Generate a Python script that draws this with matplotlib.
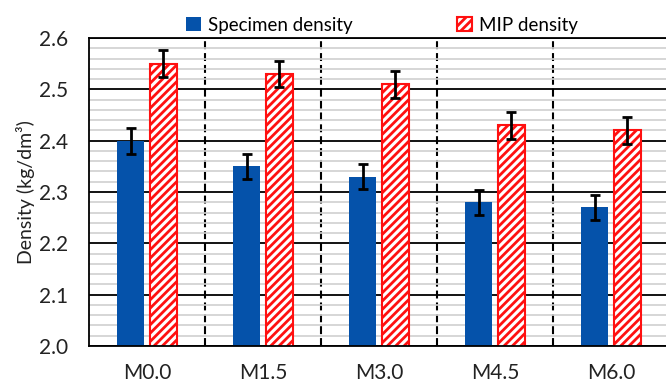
import numpy as np
import matplotlib.pyplot as plt
from matplotlib.ticker import MultipleLocator

plt.rcParams['font.family'] = ['Lato', 'DejaVu Sans']
plt.rcParams['hatch.linewidth'] = 2.0

## DATOS ##
mixes = ['M0.0', 'M1.5', 'M3.0', 'M4.5', 'M6.0']
specimen = [2.40, 2.35, 2.33, 2.28, 2.27]
specimen_err = [0.025, 0.024, 0.024, 0.024, 0.024]
mip = [2.55, 2.53, 2.51, 2.43, 2.42]
mip_err = [0.026, 0.026, 0.026, 0.026, 0.026]
## DATOS ##

x = np.arange(len(mixes))
w = 0.235
off = 0.142

fig = plt.figure(figsize=(6.66, 3.82), dpi=100)
ax = fig.add_axes([0.1336, 0.0942, 0.8709, 0.8063])

# lineas de grilla
ax.yaxis.set_minor_locator(MultipleLocator(0.02))
ax.yaxis.set_major_locator(MultipleLocator(0.1))
ax.grid(True, which='minor', axis='y', color='#d0d0d0', lw=1.2, zorder=0)
ax.grid(True, which='major', axis='y', color='black', lw=1.3, zorder=0.5)
for xb in x[:-1] + 0.5:
    ax.axvline(xb, color='black', ls=(0, (3.8, 1.9)), lw=1.5, zorder=0.6)

ax.bar(x - off, specimen, w, color='#0552AA', label='Specimen density', zorder=2)
ax.bar(x + off, mip, w, facecolor='white', edgecolor='#ff1010', hatch='////',
       lw=1.5, label='MIP density', zorder=2)
ax.errorbar(x - off, specimen, yerr=specimen_err, fmt='none', ecolor='black',
            elinewidth=2, capsize=3.5, capthick=2, zorder=3)
ax.errorbar(x + off, mip, yerr=mip_err, fmt='none', ecolor='black',
            elinewidth=2, capsize=3.5, capthick=2, zorder=3)

ax.set_ylim(2.0, 2.6)
ax.set_xlim(-0.5, 4.5)
ax.set_xticks(x)
ax.set_xticklabels(mixes)
ax.yaxis.set_major_formatter(lambda v, p: f'{v:.1f}')
ax.tick_params(axis='both', which='both', length=0, labelsize=15, colors='#222222')
ax.tick_params(axis='x', pad=12)
ax.tick_params(axis='y', pad=15)
ax.set_ylabel('Density (kg/dm³)', fontsize=14, color='#222222', labelpad=3)
for s in ax.spines.values():
    s.set_linewidth(1.3)
ax.spines['right'].set_visible(False)

ax.legend(loc='lower center', bbox_to_anchor=(0.505, 0.99), ncol=2, frameon=False,
          fontsize=13.5, handlelength=0.8, handleheight=0.8, columnspacing=5.6,
          handletextpad=0.35, borderaxespad=0)

plt.savefig('out.png', dpi=100)
